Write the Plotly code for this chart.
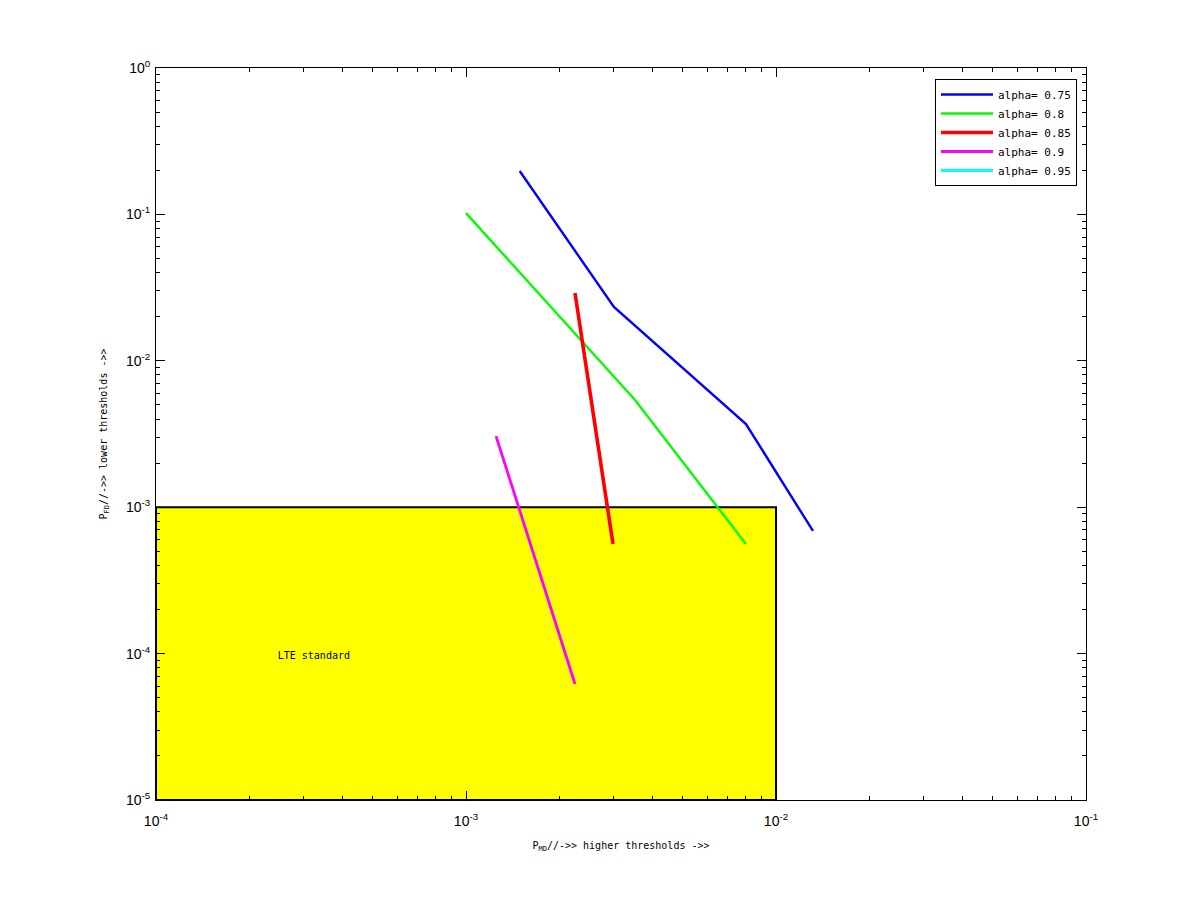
import plotly.graph_objects as go

# Data
blue_x = [1.49e-3, 3.0e-3, 8.0e-3, 1.316e-2]
blue_y = [0.198, 0.0233, 3.70e-3, 6.88e-4]
green_x = [1.0e-3, 3.51e-3, 8.0e-3]
green_y = [0.102, 5.4e-3, 5.6e-4]
red_x = [2.247e-3, 2.98e-3]
red_y = [0.029, 5.6e-4]
magenta_x = [1.25e-3, 2.247e-3]
magenta_y = [3.06e-3, 6.2e-5]
cyan_x = [1e-7, 2e-7]
cyan_y = [1e-8, 2e-8]

series_names = ["alpha= 0.75", "alpha= 0.8", "alpha= 0.85", "alpha= 0.9", "alpha= 0.95"]
series_colors = ["#0000ff", "#00ff00", "#ff0000", "#ff00ff", "#00ffff"]
series_widths = [2.4, 2.4, 3.6, 2.8, 3]

box_x = [1e-4, 1e-2, 1e-2, 1e-4, 1e-4]
box_y = [1e-5, 1e-5, 1e-3, 1e-3, 1e-5]
box_label = "LTE standard"
box_label_x = 3.23e-4
box_label_y = 9.6e-5

SUP = "<sup>%s</sup>"
x_ticks = [1e-4, 1e-3, 1e-2, 1e-1]
x_ticktext = ["10" + SUP % e for e in ["-4", "-3", "-2", "-1"]]
y_ticks = [1e-5, 1e-4, 1e-3, 1e-2, 1e-1, 1]
y_ticktext = ["10" + SUP % e for e in ["-5", "-4", "-3", "-2", "-1", "0"]]

FONT = "DejaVu Sans Mono"
TFONT = "Liberation Sans"

fig = go.Figure()
fig.add_trace(go.Scatter(x=box_x, y=box_y, mode="lines", fill="toself",
                         fillcolor="#ffff00", line=dict(color="black", width=2),
                         showlegend=False, hoverinfo="skip"))
fig.add_trace(go.Scatter(x=[box_label_x], y=[box_label_y], mode="text", text=[box_label],
                         textfont=dict(family=FONT, size=10, color="black"),
                         showlegend=False))

xs = [blue_x, green_x, red_x, magenta_x, cyan_x]
ys = [blue_y, green_y, red_y, magenta_y, cyan_y]
for x, y, n, c, w in zip(xs, ys, series_names, series_colors, series_widths):
    fig.add_trace(go.Scatter(x=x, y=y, mode="lines", name=n,
                             line=dict(color=c, width=w)))

def minor_vals(lo, hi):
    vals = []
    for e in range(lo, hi):
        for d in range(2, 10):
            vals.append(d * 10 ** e)
    return vals

axis_common = dict(type="log", showgrid=False, zeroline=False, showline=True,
                   linecolor="black", linewidth=1, mirror="ticks", ticks="inside",
                   ticklen=9, tickcolor="black",
                   tickfont=dict(family=TFONT, size=14, color="black"))

fig.update_xaxes(range=[-4, -1], tickvals=x_ticks, ticktext=x_ticktext,
                 ticklabelstandoff=8,
                 minor=dict(ticks="inside", ticklen=4, tickcolor="black", tickvals=minor_vals(-4, -1)),
                 title=dict(text="P<sub>MD</sub>//->> higher thresholds ->>",
                            font=dict(family=FONT, size=10, color="black"), standoff=14),
                 **axis_common)
fig.update_yaxes(range=[-5, 0], tickvals=y_ticks, ticktext=y_ticktext,
                 ticklabelstandoff=2,
                 minor=dict(ticks="inside", ticklen=4, tickcolor="black", tickvals=minor_vals(-5, 0)),
                 title=dict(text="P<sub>FD</sub>//->> lower thresholds ->>",
                            font=dict(family=FONT, size=10, color="black"), standoff=16),
                 **axis_common)

fig.update_layout(width=1200, height=900, plot_bgcolor="white", paper_bgcolor="white",
                  margin=dict(l=148, r=122, t=60, b=108),
                  legend=dict(x=0.9903, y=0.985, xanchor="right", yanchor="top",
                              bordercolor="black", borderwidth=1, bgcolor="white",
                              font=dict(family=FONT, size=11, color="black"),
                              itemwidth=52, entrywidth=110, tracegroupgap=0),
                  showlegend=True)

fig.write_html("out.html")
